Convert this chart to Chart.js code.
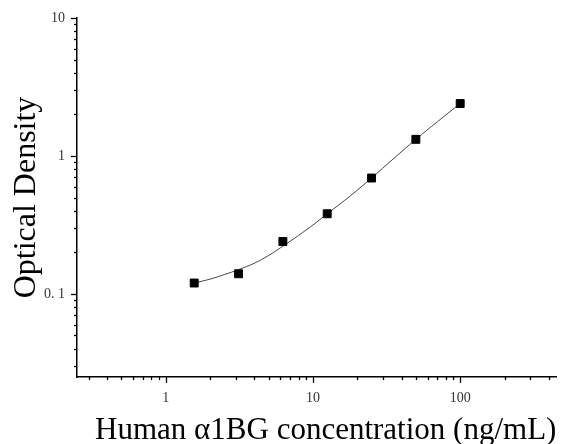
<!DOCTYPE html>
<html>
<head>
<meta charset="utf-8">
<script src="https://cdn.jsdelivr.net/npm/chart.js@4/dist/chart.umd.min.js"></script>
<style>
	body { margin: 0; background: #fff; }
	canvas { display: block; }
</style>
</head>
<body>
<canvas id="chart" width="563" height="444"></canvas>
<script>
// standard points (concentration, OD)
var pointsX = [1.5625, 3.125, 6.25, 12.5, 25, 50, 100];
var pointsY = [0.120, 0.140, 0.240, 0.381, 0.692, 1.32, 2.40];

// fitted curve
var curveX = [1.5625, 2, 2.5, 3.125, 4, 5, 6.25, 8, 10, 12.5, 18, 25, 35, 50, 70, 100];
var curveY = [0.120, 0.128, 0.138, 0.150, 0.167, 0.190, 0.222, 0.266, 0.316, 0.381, 0.515, 0.692, 0.95, 1.32, 1.77, 2.40];

// axis ticks
var xTicks = [0.3, 0.4, 0.5, 0.6, 0.7, 0.8, 0.9, 1, 2, 3, 4, 5, 6, 7, 8, 9, 10,
	20, 30, 40, 50, 60, 70, 80, 90, 100, 200, 300, 400];
var xLabels = { 1: '1', 10: '10', 100: '100' };
var yTicks = [0.03, 0.04, 0.05, 0.06, 0.07, 0.08, 0.09, 0.1, 0.2, 0.3, 0.4, 0.5,
	0.6, 0.7, 0.8, 0.9, 1, 2, 3, 4, 5, 6, 7, 8, 9, 10];
var yLabels = { 0.1: '0. 1', 1: '1', 10: '10' };

var serif = "'Liberation Serif', 'Times New Roman', serif";

function toXY(xs, ys) {
	return xs.map(function(x, i) {
		return { x: x, y: ys[i] };
	});
}

function isDecade(v) {
	var l = Math.log10(v);
	return Math.abs(l - Math.round(l)) < 1e-9;
}

function setTicks(values) {
	return function(scale) {
		scale.ticks = values.map(function(v) {
			return { value: v, major: isDecade(v) };
		});
	};
}

// outward ticks, long on decades and short in between
var tickMarks = {
	id: 'tickMarks',
	afterDraw: function(chart) {
		var ctx = chart.ctx;
		var xs = chart.scales.x;
		var ys = chart.scales.y;
		ctx.save();
		ctx.strokeStyle = '#000';
		ctx.lineWidth = 1.3;
		xs.ticks.forEach(function(t) {
			var px = Math.round(xs.getPixelForValue(t.value)) + 0.5;
			var len = isDecade(t.value) ? 6 : 3;
			ctx.beginPath();
			ctx.moveTo(px, xs.top);
			ctx.lineTo(px, xs.top + len);
			ctx.stroke();
		});
		ys.ticks.forEach(function(t) {
			var py = Math.round(ys.getPixelForValue(t.value)) + 0.5;
			var len = isDecade(t.value) ? 6 : 3;
			ctx.beginPath();
			ctx.moveTo(ys.right, py);
			ctx.lineTo(ys.right - len, py);
			ctx.stroke();
		});
		ctx.restore();
	}
};

new Chart(document.getElementById('chart'), {
	type: 'scatter',
	data: {
		datasets: [ {
			data: toXY(pointsX, pointsY),
			pointStyle: 'rect',
			pointRadius: 5.6,
			pointBackgroundColor: '#000',
			pointBorderColor: '#000',
			pointBorderWidth: 1,
			showLine: false,
			order: 0
		}, {
			data: toXY(curveX, curveY),
			showLine: true,
			borderColor: '#444',
			borderWidth: 1,
			pointRadius: 0,
			tension: 0.4,
			order: 1
		} ]
	},
	options: {
		responsive: false,
		animation: false,
		layout: {
			padding: { top: 18, right: 6, left: 0, bottom: 0 }
		},
		plugins: {
			legend: { display: false },
			tooltip: { enabled: false }
		},
		scales: {
			x: {
				type: 'logarithmic',
				min: 0.25,
				max: 450,
				afterBuildTicks: setTicks(xTicks),
				afterFit: function(scale) { scale.height = 67; },
				border: { display: true, color: '#000', width: 1.5 },
				grid: {
					drawOnChartArea: false,
					drawTicks: true,
					tickLength: 6,
					tickColor: 'rgba(0,0,0,0)'
				},
				ticks: {
					autoSkip: false,
					maxRotation: 0,
					padding: 7,
					color: '#333',
					font: { family: serif, size: 14 },
					callback: function(value) {
						return xLabels[value] || '';
					}
				},
				title: {
					display: true,
					text: 'Human \u03b11BG concentration (ng/mL)',
					align: 'end',
					color: '#000',
					padding: 0,
					font: { family: serif, size: 31, lineHeight: 0.86 }
				}
			},
			y: {
				type: 'logarithmic',
				min: 0.025,
				max: 10,
				afterBuildTicks: setTicks(yTicks),
				afterFit: function(scale) { scale.width = 77; },
				border: { display: true, color: '#000', width: 1.5 },
				grid: {
					drawOnChartArea: false,
					drawTicks: true,
					tickLength: 6,
					tickColor: 'rgba(0,0,0,0)'
				},
				ticks: {
					autoSkip: false,
					padding: 6,
					color: '#333',
					font: { family: serif, size: 14 },
					callback: function(value) {
						return yLabels[value] || '';
					}
				},
				title: {
					display: true,
					text: 'Optical Density',
					color: '#000',
					padding: { top: 11, bottom: 0 },
					font: { family: serif, size: 32, lineHeight: 1 }
				}
			}
		}
	},
	plugins: [ tickMarks ]
});
</script>
</body>
</html>
